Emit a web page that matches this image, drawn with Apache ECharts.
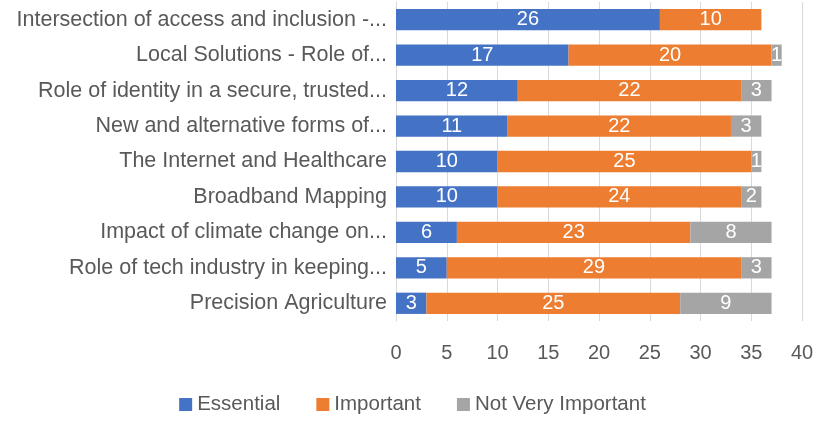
<!DOCTYPE html>
<html><head><meta charset="utf-8">
<script src="https://cdn.jsdelivr.net/npm/echarts@6/dist/echarts.min.js"></script>
<style>html,body{margin:0;padding:0;background:#fff}#c{width:825px;height:423px}</style>
</head><body><div id="c"></div>
<script>
var categories = [
  "Intersection of access and inclusion -...",
  "Local Solutions - Role of...",
  "Role of identity in a secure, trusted...",
  "New and alternative forms of...",
  "The Internet and Healthcare",
  "Broadband Mapping",
  "Impact of climate change on...",
  "Role of tech industry in keeping...",
  "Precision Agriculture"
];
var essential = [26, 17, 12, 11, 10, 10, 6, 5, 3];
var important = [10, 20, 22, 22, 25, 24, 23, 29, 25];
var notVeryImportant = [0, 1, 3, 3, 1, 2, 8, 3, 9];
var seriesNames = ["Essential", "Important", "Not Very Important"];
var colors = ["#4472C4", "#ED7D31", "#A5A5A5"];
var FONT = "Liberation Sans";

var chart = echarts.init(document.getElementById('c'), null, {renderer: 'canvas'});
function mk(name, data, color) {
  return {
    name: name, type: 'bar', stack: 'total', data: data, barCategoryGap: '40%',
    itemStyle: {color: color},
    label: {show: true, position: 'inside', color: '#fff', fontSize: 20, fontFamily: FONT,
      formatter: function(p){ return p.value ? p.value : ''; }},
    emphasis: {disabled: true}
  };
}
chart.setOption({
  animation: false,
  color: colors,
  textStyle: {fontFamily: FONT},
  grid: {left: 396, right: 23, top: 2, bottom: 102, containLabel: false},
  xAxis: {
    type: 'value', min: 0, max: 40, interval: 5,
    axisLine: {show: false}, axisTick: {show: false},
    splitLine: {show: true, lineStyle: {color: '#D9D9D9', width: 1}},
    axisLabel: {color: '#595959', fontSize: 20, fontFamily: FONT, margin: 22}
  },
  yAxis: {
    type: 'category', data: categories, inverse: true,
    axisLine: {show: true, lineStyle: {color: '#D9D9D9', width: 1}},
    axisTick: {show: false},
    axisLabel: {color: '#595959', fontSize: 21.5, fontFamily: FONT, margin: 9}
  },
  legend: {
    bottom: 3, left: 'center', itemWidth: 13, itemHeight: 13, itemGap: 36,
    icon: 'rect',
    textStyle: {color: '#595959', fontSize: 20.5, fontFamily: FONT},
    data: seriesNames
  },
  series: [
    mk(seriesNames[0], essential, colors[0]),
    mk(seriesNames[1], important, colors[1]),
    mk(seriesNames[2], notVeryImportant, colors[2])
  ]
});
</script></body></html>
